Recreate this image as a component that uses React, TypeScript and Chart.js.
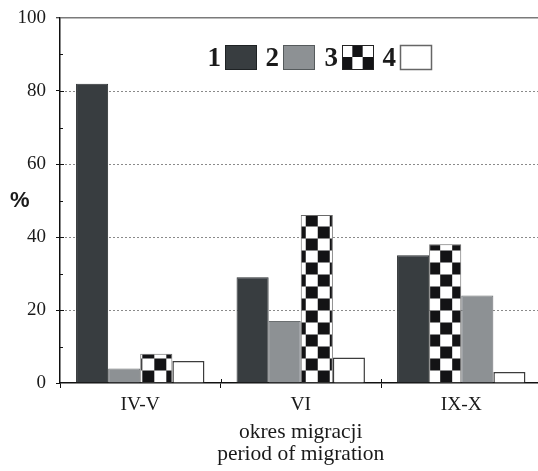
import React, { useEffect, useRef } from 'react';
import { Chart, registerables } from 'chart.js';

Chart.register(...registerables);

// ---- data ----
const categories = ['IV-V', 'VI', 'IX-X'];
const series1 = [82, 29, 35];
const series2 = [4, 17, 24];
const series3 = [8, 46, 38];
const series4 = [6, 7, 3];
const allSeries = [series1, series2, series3, series4];
const legendLabels = ['1', '2', '3', '4'];
// which series sits in which bar slot, per category (IX-X has 3 before 2)
const slotOrder = [
  [0, 1, 2, 3],
  [0, 1, 2, 3],
  [0, 2, 1, 3],
];
const xTitle = ['okres migracji', 'period of migration'];
const yTitle = '%';
const yMax = 100;
const yStep = 10;
const yLabelStep = 20;

// ---- styles ----
const SERIF = '"Liberation Serif", "Times New Roman", serif';
const SANS = '"Liberation Sans", Arial, sans-serif';
const TEXT = '#1a1a1a';
const FILLS = ['#383d40', '#8d9194', 'checker', '#ffffff'];
const BORDERS = ['#2a2e30', '#6b6f71', '#6a6a6a', '#3c3c3c'];
const BORDER_W = [1, 1, 1, 1.5];
const CELL = 12;
const checkerPhase = [
  { dx: 14, flip: false },
  { dx: 5, flip: false },
  { dx: 11, flip: true },
];

function makeTile(): HTMLCanvasElement {
  const c = document.createElement('canvas');
  c.width = CELL * 2;
  c.height = CELL * 2;
  const g = c.getContext('2d')!;
  g.fillStyle = '#ffffff';
  g.fillRect(0, 0, CELL * 2, CELL * 2);
  g.fillStyle = '#131315';
  g.fillRect(0, 0, CELL, CELL);
  g.fillRect(CELL, CELL, CELL, CELL);
  return c;
}

const decorPlugin = {
  id: 'decor',
  beforeDatasetsDraw(chart: any) {
    const ctx = chart.ctx as CanvasRenderingContext2D;
    const { chartArea } = chart;
    const ys = chart.scales.y;
    // dotted grid lines at labelled values (drawn below the bars)
    ctx.save();
    ctx.fillStyle = '#8a8a8a';
    for (let v = yLabelStep; v < yMax; v += yLabelStep) {
      const y = Math.round(ys.getPixelForValue(v));
      for (let x = chartArea.left + 5; x < chartArea.right; x += 4) {
        ctx.fillRect(Math.round(x), y, 2, 1);
      }
    }
    ctx.restore();

    const tile = makeTile();
    chart.data.datasets.forEach((_ds: any, s: number) => {
      const meta = chart.getDatasetMeta(s);
      meta.data.forEach((el: any, c: number) => {
        if (slotOrder[c][s] !== 2) return;
        const left = el.x - el.width / 2;
        const ph = checkerPhase[c];
        const pat = ctx.createPattern(tile, 'repeat')!;
        pat.setTransform(new DOMMatrix([1, 0, 0, 1, left + ph.dx + (ph.flip ? CELL : 0), el.base]));
        el.options = Object.assign({}, el.options, { backgroundColor: pat });
      });
    });
  },
  afterDraw(chart: any) {
    const ctx = chart.ctx as CanvasRenderingContext2D;
    const { chartArea } = chart;
    const ys = chart.scales.y;
    const xs = chart.scales.x;
    ctx.save();
    // inner tick marks on y axis
    ctx.strokeStyle = '#111';
    ctx.lineWidth = 1;
    for (let v = yStep; v < yMax; v += yStep) {
      const y = Math.round(ys.getPixelForValue(v)) + 0.5;
      const len = v % yLabelStep === 0 ? 4 : 3;
      ctx.beginPath();
      ctx.moveTo(chartArea.left, y);
      ctx.lineTo(chartArea.left + len, y);
      ctx.stroke();
    }
    // inner tick marks on x axis between categories
    for (let i = 0; i < categories.length - 1; i++) {
      const x = Math.round((xs.getPixelForValue(i) + xs.getPixelForValue(i + 1)) / 2) + 0.5;
      ctx.beginPath();
      ctx.moveTo(x, chartArea.bottom - 4);
      ctx.lineTo(x, chartArea.bottom);
      ctx.stroke();
    }
    // y title
    ctx.fillStyle = TEXT;
    ctx.font = `bold 22px ${SANS}`;
    ctx.textAlign = 'left';
    ctx.textBaseline = 'middle';
    ctx.fillText(yTitle, 10, 201);

    // legend
    const boxW = 31;
    const boxH = 24;
    const boxTop = 45;
    const startX = 225;
    const stepX = 58.3;
    ctx.font = `bold 27px ${SERIF}`;
    ctx.textAlign = 'right';
    ctx.textBaseline = 'alphabetic';
    legendLabels.forEach((lab, i) => {
      const bx = Math.round(startX + i * stepX);
      ctx.fillStyle = TEXT;
      ctx.fillText(lab, bx - 4, 66);
      if (FILLS[i] === 'checker') {
        ctx.fillStyle = '#ffffff';
        ctx.fillRect(bx, boxTop, boxW, boxH);
        ctx.fillStyle = '#131315';
        const cw = boxW / 3;
        const ch = boxH / 2;
        ctx.fillRect(bx + cw, boxTop, cw, ch);
        ctx.fillRect(bx, boxTop + ch, cw, ch);
        ctx.fillRect(bx + 2 * cw, boxTop + ch, cw, ch);
        ctx.strokeStyle = '#222';
        ctx.lineWidth = 1;
        ctx.strokeRect(bx + 0.5, boxTop + 0.5, boxW, boxH);
      } else {
        ctx.fillStyle = FILLS[i];
        ctx.fillRect(bx, boxTop, boxW, boxH);
        ctx.strokeStyle = i === 0 ? '#1e2224' : i === 1 ? '#555a5c' : '#666';
        ctx.lineWidth = i === 3 ? 1.5 : 1;
        ctx.strokeRect(bx + 0.5, boxTop + 0.5, boxW, boxH);
      }
    });
    ctx.restore();
  },
};

export default function App() {
  const ref = useRef<HTMLCanvasElement>(null);

  useEffect(() => {
    if (!ref.current) return;
    const datasets = [0, 1, 2, 3].map((s) => ({
      label: legendLabels[s],
      data: categories.map((_c, c) => allSeries[slotOrder[c][s]][c]),
      backgroundColor: (ctx: any) => {
        const f = FILLS[slotOrder[ctx.dataIndex][s]];
        return f === 'checker' ? '#ffffff' : f;
      },
      borderColor: (ctx: any) => BORDERS[slotOrder[ctx.dataIndex][s]],
      borderWidth: (ctx: any) => BORDER_W[slotOrder[ctx.dataIndex][s]],
      categoryPercentage: 0.8,
      barPercentage: 1.0,
    }));

    const chart = new Chart(ref.current, {
      type: 'bar',
      data: { labels: categories, datasets },
      options: {
        responsive: false,
        animation: false,
        devicePixelRatio: 1,
        layout: { padding: { top: 18, right: 3.5, left: 0, bottom: 0 } },
        plugins: {
          legend: { display: false },
          tooltip: { enabled: false },
        },
        scales: {
          x: {
            grid: {
              drawOnChartArea: false,
              offset: true,
              tickLength: 5,
              tickColor: '#111',
              tickWidth: 1,
            },
            border: { color: '#111', width: 1.5 },
            ticks: { font: { family: SERIF, size: 19.5 }, color: TEXT, padding: 5 },
            title: {
              display: true,
              text: xTitle,
              font: { family: SERIF, size: 21.5, lineHeight: 1.05 },
              color: TEXT,
              padding: { top: 0, bottom: 5 },
            },
            afterFit: (s: any) => {
              s.height = 88;
            },
          },
          y: {
            min: 0,
            max: yMax,
            ticks: {
              stepSize: yStep,
              autoSkip: false,
              font: { family: SERIF, size: 19 },
              color: TEXT,
              padding: 10,
              callback: (v: any) => (Number(v) % yLabelStep === 0 ? String(v) : ''),
            },
            grid: {
              color: (c: any) => (c.tick && c.tick.value === yMax ? '#7a7a7a' : 'rgba(0,0,0,0)'),
              lineWidth: (c: any) => (c.tick && c.tick.value === yMax ? 1.5 : 1),
              tickColor: (c: any) => (c.tick && c.tick.value % yLabelStep === 0 ? '#111' : 'rgba(0,0,0,0)'),
              tickLength: 4,
              tickWidth: 1,
            },
            border: { color: '#111', width: 1.5 },
            afterFit: (s: any) => {
              s.width = 60;
              s.paddingTop = 0;
              s.paddingBottom = 0;
            },
          },
        },
      },
      plugins: [decorPlugin],
    } as any);

    return () => chart.destroy();
  }, []);

  return (
    <div
      style={{
        position: 'fixed',
        top: 0,
        left: 0,
        width: 538,
        height: 471,
        overflow: 'hidden',
        background: '#ffffff',
      }}
    >
      <canvas ref={ref} width={545} height={471} style={{ display: 'block', width: 545, height: 471 }} />
    </div>
  );
}
